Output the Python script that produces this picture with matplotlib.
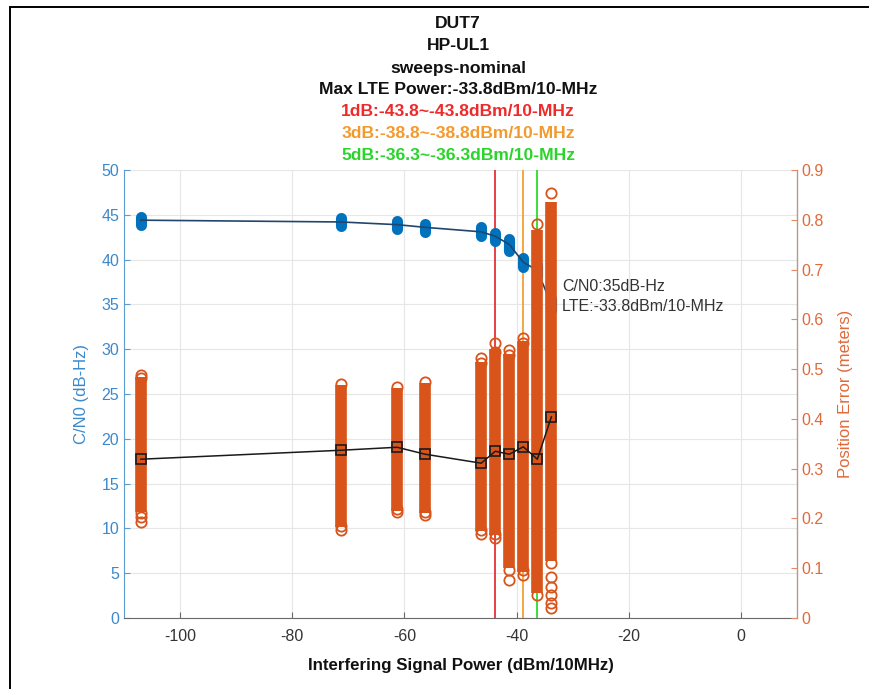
import matplotlib
matplotlib.use('Agg')
import matplotlib.pyplot as plt
from matplotlib.lines import Line2D

plt.rcParams['font.family'] = ['Liberation Sans', 'DejaVu Sans']
plt.rcParams['axes.unicode_minus'] = False

# Interferer power steps (dBm/10MHz)
power = [-107.0, -71.3, -61.3, -56.3, -46.3, -43.8, -41.3, -38.8, -36.3, -33.8]

# C/N0 per step: mean and spread of the samples
cn0_mean = [44.4, 44.2, 43.9, 43.6, 43.1, 42.6, 41.7, 39.7, 38.8, 35.0]
cn0_lo = [43.9, 43.8, 43.4, 43.1, 42.6, 42.1, 41.0, 39.2, 38.2, 34.4]
cn0_hi = [44.8, 44.6, 44.3, 44.0, 43.6, 43.0, 42.3, 40.2, 39.4, 35.6]

# Position error per step: mean, dense sample band and sparse outer samples
pe_mean = [0.319, 0.337, 0.343, 0.329, 0.311, 0.335, 0.329, 0.344, 0.319, 0.404]
pe_lo = [0.212, 0.182, 0.215, 0.210, 0.175, 0.167, 0.100, 0.092, 0.050, 0.115]
pe_hi = [0.484, 0.468, 0.462, 0.472, 0.515, 0.540, 0.530, 0.556, 0.780, 0.836]
pe_outer = [
    [0.488, 0.482, 0.211, 0.203, 0.193],
    [0.470, 0.185, 0.177],
    [0.464, 0.218, 0.212],
    [0.474, 0.212, 0.207],
    [0.522, 0.512, 0.177, 0.169],
    [0.552, 0.534, 0.169, 0.161],
    [0.538, 0.528, 0.096, 0.076],
    [0.562, 0.552, 0.096, 0.086],
    [0.791, 0.046],
    [0.854, 0.110, 0.082, 0.062, 0.046, 0.030, 0.020],
]

# Degradation thresholds
thr_power = [-43.8, -38.8, -36.3]
thr_colors = ['#e5303a', '#f5a033', '#2bdc2b']
thr_text_colors = ['#ee2a2a', '#f39a2e', '#2ad42a']
thr_labels = ['1dB:-43.8~-43.8dBm/10-MHz', '3dB:-38.8~-38.8dBm/10-MHz',
              '5dB:-36.3~-36.3dBm/10-MHz']
title_lines = ['DUT7', 'HP-UL1', 'sweeps-nominal', 'Max LTE Power:-33.8dBm/10-MHz']

blue = '#0072bd'
blue_txt = '#3b89cc'
orange = '#d9541a'
orange_txt = '#e0693a'

fig = plt.figure(figsize=(8.7, 6.89), dpi=100)
ax = fig.add_axes([124 / 870, 71 / 689, 673 / 870, 448 / 689])
ax2 = ax.twinx()

# grid and threshold markers sit underneath everything
ax.set_axisbelow(True)
ax.grid(True, color='#e6e6e6', lw=0.8)
for xp, c in zip(thr_power, thr_colors):
    ax.axvline(xp, color=c, lw=1.3, zorder=1)

# C/N0 samples (stacked filled dots) and mean line
for x, lo, hi in zip(power, cn0_lo, cn0_hi):
    ax.plot([x, x], [lo, hi], color=blue, lw=8, solid_capstyle='round', zorder=2)
ax.plot(power, cn0_mean, color='#22466b', lw=1.2, zorder=3)

# position error samples and mean line
ax2.vlines(power, pe_lo, pe_hi, colors=orange, lw=8.4, zorder=2)
for x, vals in zip(power, pe_outer):
    ax2.plot([x] * len(vals), vals, 'o', mfc='none', mec=orange, ms=7.4,
             mew=1.3, zorder=2)
ax2.plot(power, pe_mean, color='#1a1a1a', lw=1.1, marker='s', ms=7,
         mfc='none', mec='#1a1a1a', mew=1.2, zorder=4)

ax.text(-31.9, 35.9, 'C/N0:35dB-Hz\nLTE:-33.8dBm/10-MHz', fontsize=11.5,
        color='#333333', va='center', ha='left', linespacing=1.4, zorder=5)

ax.set_xlim(-110, 10)
ax.set_ylim(0, 50)
ax2.set_ylim(0, 0.9)
ax.set_xticks([-100, -80, -60, -40, -20, 0])
ax.set_yticks(range(0, 51, 5))
ax2.set_yticks([i / 10 for i in range(10)])
ax2.set_yticklabels(['0'] + ['0.%d' % i for i in range(1, 10)])

for a in (ax, ax2):
    a.spines['top'].set_visible(False)
    a.tick_params(direction='in', length=4, width=0.8, labelsize=11.5)
ax.spines['left'].set_color('#5b9bd0')
ax.spines['bottom'].set_color('#6a6a6a')
ax2.spines['right'].set_color('#e48a60')
ax2.spines['left'].set_visible(False)
ax2.spines['bottom'].set_visible(False)
ax.tick_params(axis='y', colors='#5b9bd0', labelcolor=blue_txt)
ax.tick_params(axis='x', colors='#6a6a6a', labelcolor='#333333', pad=8)
ax2.tick_params(axis='y', colors='#e48a60', labelcolor=orange_txt)

ax.set_ylabel('C/N0 (dB-Hz)', fontsize=12, color=blue_txt, labelpad=9)
ax2.set_ylabel('Position Error (meters)', fontsize=12, color=orange_txt, labelpad=10)
ax.set_xlabel('Interfering Signal Power (dBm/10MHz)', fontsize=12.2,
              fontweight='bold', color='#111111', labelpad=10)

# stacked title: black header lines then one line per threshold
ys = [23, 45, 68, 90, 112, 134, 156]
texts = title_lines + thr_labels
colors = ['#111111'] * 4 + thr_text_colors
for y, t, c in zip(ys, texts, colors):
    fig.text(458 / 870, 1 - y / 689, t, ha='center', va='center',
             fontsize=12.6, fontweight='bold', color=c)

# outer frame around the figure
fig.add_artist(Line2D([10 / 870, 1.0], [1 - 7 / 689, 1 - 7 / 689],
                      color='black', lw=1.4, transform=fig.transFigure))
fig.add_artist(Line2D([10 / 870, 10 / 870], [0.0, 1 - 7 / 689],
                      color='black', lw=1.4, transform=fig.transFigure))

fig.savefig('out.png', dpi=100)
